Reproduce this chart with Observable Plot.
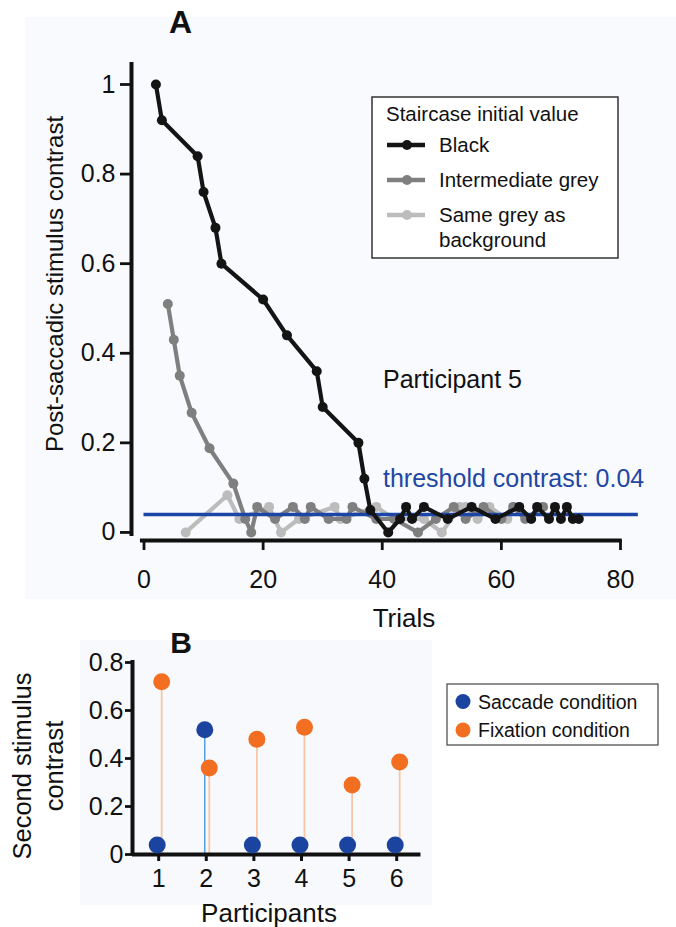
<!DOCTYPE html>
<html><head><meta charset="utf-8">
<script src="https://cdn.jsdelivr.net/npm/d3@7"></script>
<script src="https://cdn.jsdelivr.net/npm/@observablehq/plot@0.6"></script>
<style>
body{margin:0;background:#fff;}
#page{position:relative;width:676px;height:927px;overflow:hidden;font-family:"Liberation Sans",Arial,sans-serif;}
.abs{position:absolute;left:0;top:0;}
svg text{font-family:"Liberation Sans",Arial,sans-serif;}
</style></head><body>
<div id="page">
  <div style="position:absolute;left:25px;top:17px;width:651px;height:582px;background:#f9fafd"></div>
  <div style="position:absolute;left:80px;top:640px;width:352px;height:265px;background:#f7f9fc"></div>
  <div id="panelA" class="abs"></div>
  <div id="panelB" class="abs" style="top:620px"></div>
  <svg id="overlay" class="abs" width="676" height="927"></svg>
</div>
<script>
// ---------- Panel A data ----------
const trialTicks = [0, 20, 40, 60, 80];
const contrastTicks = [0, 0.2, 0.4, 0.6, 0.8, 1];
const threshold = 0.04;
const thresholdSpan = [0, 83];

const blackTrials = [2, 3, 9, 10, 12, 13, 20, 24, 29, 30, 36, 37, 38, 41, 43, 44, 45, 47, 51, 55, 59, 63, 65, 66, 68, 69, 70, 71, 72, 73];
const blackValues = [1, 0.92, 0.84, 0.76, 0.68, 0.60, 0.52, 0.44, 0.36, 0.28, 0.20, 0.12, 0.05, 0, 0.03, 0.057, 0.03, 0.057, 0.03, 0.057, 0.03, 0.057, 0.03, 0.057, 0.03, 0.057, 0.03, 0.057, 0.03, 0.03];

const greyTrials = [4, 5, 6, 8, 11, 15, 17, 18, 19, 22, 25, 27, 28, 31, 34, 35, 39, 42, 46, 49, 52, 54, 57, 60, 62, 64, 67];
const greyValues = [0.51, 0.43, 0.35, 0.267, 0.188, 0.109, 0.03, 0, 0.057, 0.03, 0.057, 0.03, 0.057, 0.03, 0.03, 0.057, 0.03, 0.03, 0, 0.03, 0.057, 0.03, 0.057, 0.03, 0.057, 0.03, 0.057];

const lightTrials = [7, 14, 16, 21, 23, 26, 32, 33, 39, 42, 47, 50, 53, 54, 56, 58, 61, 62];
const lightValues = [0, 0.083, 0.03, 0.057, 0, 0.03, 0.057, 0.03, 0.057, 0.03, 0.03, 0, 0.057, 0.057, 0.03, 0.057, 0.03, 0.057];

// ---------- Panel B data ----------
const participants = [1, 2, 3, 4, 5, 6];
const saccadeValues = [0.04, 0.52, 0.04, 0.04, 0.04, 0.04];
const fixationValues = [0.72, 0.36, 0.48, 0.53, 0.29, 0.385];
const contrastTicksB = [0, 0.2, 0.4, 0.6, 0.8];

const toRows = (ts, vs) => ts.map((t, i) => ({trial: t, value: vs[i]}));
const black = toRows(blackTrials, blackValues);
const grey = toRows(greyTrials, greyValues);
const light = toRows(lightTrials, lightValues);

const FONT = "Liberation Sans, Arial, sans-serif";
const cBlack = "#141414", cGrey = "#7f7f7f", cLight = "#bcbcbc", cBlue = "#1c46a6";
const LW = 4.2, R = 5;

const xDomA = [-2.1, 80], yDomA = [-0.018, 1];
const A = Plot.plot({
  width: 676, height: 640,
  marginLeft: 131, marginRight: 56, marginTop: 84, marginBottom: 100,
  x: {domain: xDomA}, y: {domain: yDomA},
  style: {background: "transparent", fontFamily: FONT, color: "#111"},
  marks: [
    Plot.ruleX([xDomA[0]], {y1: -0.009, y2: 1.049, stroke: "#111", strokeWidth: 4}),
    Plot.ruleY([yDomA[0]], {x1: -0.6, x2: 80.3, stroke: "#111", strokeWidth: 4}),
    Plot.axisY(contrastTicks, {tickSize: 11, tickPadding: 5, strokeWidth: 2.8, fontSize: 25, tickFormat: d => String(d), label: null}),
    Plot.axisX(trialTicks, {tickSize: 10, tickPadding: 20, strokeWidth: 2.8, fontSize: 25, label: null}),
    Plot.line(light, {x: "trial", y: "value", stroke: cLight, strokeWidth: LW}),
    Plot.dot(light, {x: "trial", y: "value", r: R, fill: cLight}),
    Plot.line(grey, {x: "trial", y: "value", stroke: cGrey, strokeWidth: LW}),
    Plot.dot(grey, {x: "trial", y: "value", r: R, fill: cGrey}),
    Plot.ruleY([threshold], {x1: thresholdSpan[0], x2: thresholdSpan[1], stroke: cBlue, strokeWidth: 3.5}),
    Plot.line(black, {x: "trial", y: "value", stroke: cBlack, strokeWidth: LW}),
    Plot.dot(black, {x: "trial", y: "value", r: R, fill: cBlack})
  ]
});
document.getElementById("panelA").appendChild(A);

const sac = participants.map((p, i) => ({p, v: saccadeValues[i]}));
const fix = participants.map((p, i) => ({p, v: fixationValues[i]}));
const xDomB = [0.45, 6.5], yDomB = [0, 0.8];
const B = Plot.plot({
  width: 676, height: 307,
  marginLeft: 132, marginRight: 256, marginTop: 42, marginBottom: 73,
  x: {domain: xDomB}, y: {domain: yDomB},
  style: {background: "transparent", fontFamily: FONT, color: "#111"},
  marks: [
    Plot.ruleX(fix, {x: "p", y1: 0, y2: "v", dx: 3, stroke: "#f8c6a6", strokeWidth: 1.8}),
    Plot.ruleX(sac, {x: "p", y1: 0, y2: "v", dx: -1.5, stroke: "#3f8fe0", strokeWidth: 1.3}),
    Plot.ruleX([xDomB[0]], {y1: 0, y2: 0.808, stroke: "#111", strokeWidth: 4}),
    Plot.ruleY([yDomB[0]], {x1: xDomB[0], x2: 6.51, stroke: "#111", strokeWidth: 4}),
    Plot.axisY(contrastTicksB, {tickSize: 7, tickPadding: 2, strokeWidth: 2.8, fontSize: 25, tickFormat: d => String(d), label: null}),
    Plot.axisX(participants, {tickSize: 7, tickPadding: 8, strokeWidth: 3, fontSize: 25, label: null}),
    Plot.dot(fix, {x: "p", y: "v", dx: 3, r: 8.5, fill: "#f26f22"}),
    Plot.dot(sac, {x: "p", y: "v", dx: -1.5, r: 8.5, fill: "#1b44a0"})
  ]
});
document.getElementById("panelB").appendChild(B);

// ---------- Overlay texts & legends ----------
const legendA = [
  {label: ["Black"], color: cBlack},
  {label: ["Intermediate grey"], color: cGrey},
  {label: ["Same grey as", "background"], color: cLight}
];
const legendB = [
  {label: "Saccade condition", color: "#1b44a0"},
  {label: "Fixation condition", color: "#f26f22"}
];
const ov = d3.select("#overlay");
ov.append("text").attr("x", 180.5).attr("y", 33).attr("text-anchor", "middle").attr("font-size", 32).attr("font-weight", "bold").attr("fill", "#111").text("A");
ov.append("text").attr("x", 181).attr("y", 653).attr("text-anchor", "middle").attr("font-size", 30).attr("font-weight", "bold").attr("fill", "#111").text("B");
ov.append("text").attr("transform", "translate(63,284) rotate(-90)").attr("text-anchor", "middle").attr("font-size", 24).attr("fill", "#111").text("Post-saccadic stimulus contrast");
ov.append("text").attr("x", 404).attr("y", 627).attr("text-anchor", "middle").attr("font-size", 26).attr("fill", "#111").text("Trials");
ov.append("text").attr("x", 383).attr("y", 388).attr("font-size", 25).attr("fill", "#111").text("Participant 5");
ov.append("text").attr("x", 383).attr("y", 487).attr("font-size", 25).attr("fill", "#2147a3").text("threshold contrast: 0.04");

// legend A
const lgA = ov.append("g");
lgA.append("rect").attr("x", 372).attr("y", 97).attr("width", 246).attr("height", 161).attr("fill", "#fff").attr("stroke", "#333").attr("stroke-width", 1.5);
lgA.append("text").attr("x", 386).attr("y", 121).attr("font-size", 20.5).attr("fill", "#111").text("Staircase initial value");
const rowY = [145, 180, 215];
legendA.forEach((d, i) => {
  const y = rowY[i];
  lgA.append("line").attr("x1", 387).attr("x2", 425).attr("y1", y).attr("y2", y).attr("stroke", d.color).attr("stroke-width", 4.5);
  lgA.append("circle").attr("cx", 407).attr("cy", y).attr("r", 5).attr("fill", d.color);
  d.label.forEach((t, j) => {
    lgA.append("text").attr("x", 439).attr("y", y + 6.5 + j * 25).attr("font-size", 20.5).attr("fill", "#111").text(t);
  });
});

// legend B
const lgB = ov.append("g");
lgB.append("rect").attr("x", 447).attr("y", 684).attr("width", 211).attr("height", 61).attr("fill", "#fff").attr("stroke", "#444").attr("stroke-width", 1.2);
legendB.forEach((d, i) => {
  const y = 701.5 + i * 28.5;
  lgB.append("circle").attr("cx", 463).attr("cy", y).attr("r", 7.5).attr("fill", d.color);
  lgB.append("text").attr("x", 478).attr("y", y + 7).attr("font-size", 19.5).attr("fill", "#111").text(d.label);
});
// panel B axis titles
ov.append("text").attr("transform", "translate(31,766) rotate(-90)").attr("text-anchor", "middle").attr("font-size", 25.5).attr("fill", "#111").text("Second stimulus");
ov.append("text").attr("transform", "translate(63,766) rotate(-90)").attr("text-anchor", "middle").attr("font-size", 25.5).attr("fill", "#111").text("contrast");
ov.append("text").attr("x", 269).attr("y", 922).attr("text-anchor", "middle").attr("font-size", 26).attr("fill", "#111").text("Participants");
</script>
</body></html>
